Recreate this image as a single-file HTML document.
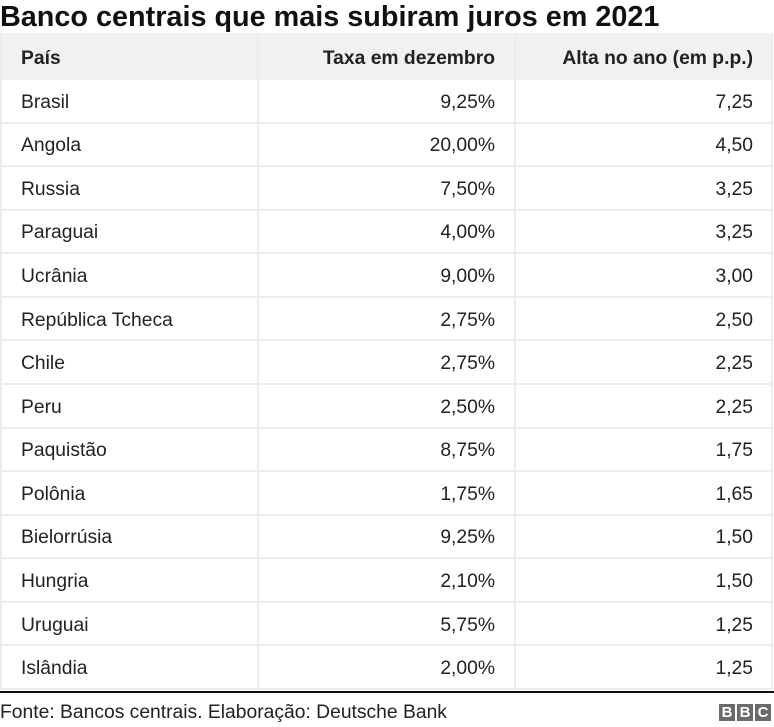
<!DOCTYPE html>
<html>
<head>
<meta charset="utf-8">
<style>
  html,body{margin:0;padding:0;background:#fff;}
  body{width:774px;height:727px;position:relative;overflow:hidden;font-family:"Liberation Sans",Arial,sans-serif;color:#222;}
  .title{position:absolute;left:0;top:-1px;font-size:28.8px;font-weight:bold;color:#111;white-space:nowrap;line-height:36px;}
  .hdr{position:absolute;left:0;top:33px;width:773px;height:47px;background:#f1f1f1;}
  .row{position:absolute;left:0;width:773px;height:43.57px;border-bottom:2px solid #ececec;box-sizing:border-box;}
  .cell{position:absolute;top:0;height:100%;display:flex;align-items:center;font-size:19.3px;white-space:nowrap;padding-top:4px;box-sizing:border-box;}
  .c1{left:21px;}
  .c2{right:278px;justify-content:flex-end;}
  .c3{right:20px;justify-content:flex-end;}
  .b{font-weight:bold;color:#222;}
  .vl{position:absolute;top:33px;height:657px;width:2px;background:#ececec;}
  .foot{position:absolute;left:0;top:691px;width:774px;height:2px;background:#111;}
  .src{position:absolute;left:0;top:702px;font-size:19.3px;line-height:22px;color:#222;white-space:nowrap;}
  .bbc{position:absolute;top:704px;width:16px;height:17px;background:#6b6b6b;color:#fff;font-weight:bold;font-size:15px;line-height:17px;text-align:center;}
</style>
</head>
<body>
<div class="title">Banco centrais que mais subiram juros em 2021</div>
<div class="hdr"></div>
<div class="vl" style="left:0;"></div>
<div class="vl" style="left:257px;"></div>
<div class="vl" style="left:514px;"></div>
<div class="vl" style="left:771px;"></div>

<div class="row" style="top:33px;height:47px;border-bottom:none;">
  <div class="cell c1 b">País</div>
  <div class="cell c2 b">Taxa em dezembro</div>
  <div class="cell c3 b">Alta no ano (em p.p.)</div>
</div>

<div class="row" style="top:80px;"><div class="cell c1">Brasil</div><div class="cell c2">9,25%</div><div class="cell c3">7,25</div></div>
<div class="row" style="top:123.57px;"><div class="cell c1">Angola</div><div class="cell c2">20,00%</div><div class="cell c3">4,50</div></div>
<div class="row" style="top:167.14px;"><div class="cell c1">Russia</div><div class="cell c2">7,50%</div><div class="cell c3">3,25</div></div>
<div class="row" style="top:210.71px;"><div class="cell c1">Paraguai</div><div class="cell c2">4,00%</div><div class="cell c3">3,25</div></div>
<div class="row" style="top:254.28px;"><div class="cell c1">Ucrânia</div><div class="cell c2">9,00%</div><div class="cell c3">3,00</div></div>
<div class="row" style="top:297.85px;"><div class="cell c1">República Tcheca</div><div class="cell c2">2,75%</div><div class="cell c3">2,50</div></div>
<div class="row" style="top:341.42px;"><div class="cell c1">Chile</div><div class="cell c2">2,75%</div><div class="cell c3">2,25</div></div>
<div class="row" style="top:384.99px;"><div class="cell c1">Peru</div><div class="cell c2">2,50%</div><div class="cell c3">2,25</div></div>
<div class="row" style="top:428.56px;"><div class="cell c1">Paquistão</div><div class="cell c2">8,75%</div><div class="cell c3">1,75</div></div>
<div class="row" style="top:472.13px;"><div class="cell c1">Polônia</div><div class="cell c2">1,75%</div><div class="cell c3">1,65</div></div>
<div class="row" style="top:515.7px;"><div class="cell c1">Bielorrúsia</div><div class="cell c2">9,25%</div><div class="cell c3">1,50</div></div>
<div class="row" style="top:559.27px;"><div class="cell c1">Hungria</div><div class="cell c2">2,10%</div><div class="cell c3">1,50</div></div>
<div class="row" style="top:602.84px;"><div class="cell c1">Uruguai</div><div class="cell c2">5,75%</div><div class="cell c3">1,25</div></div>
<div class="row" style="top:646.41px;"><div class="cell c1">Islândia</div><div class="cell c2">2,00%</div><div class="cell c3">1,25</div></div>

<div class="foot"></div>
<div class="src">Fonte: Bancos centrais. Elaboração: Deutsche Bank</div>
<div class="bbc" style="left:719px;">B</div>
<div class="bbc" style="left:737px;">B</div>
<div class="bbc" style="left:755px;">C</div>
</body>
</html>
